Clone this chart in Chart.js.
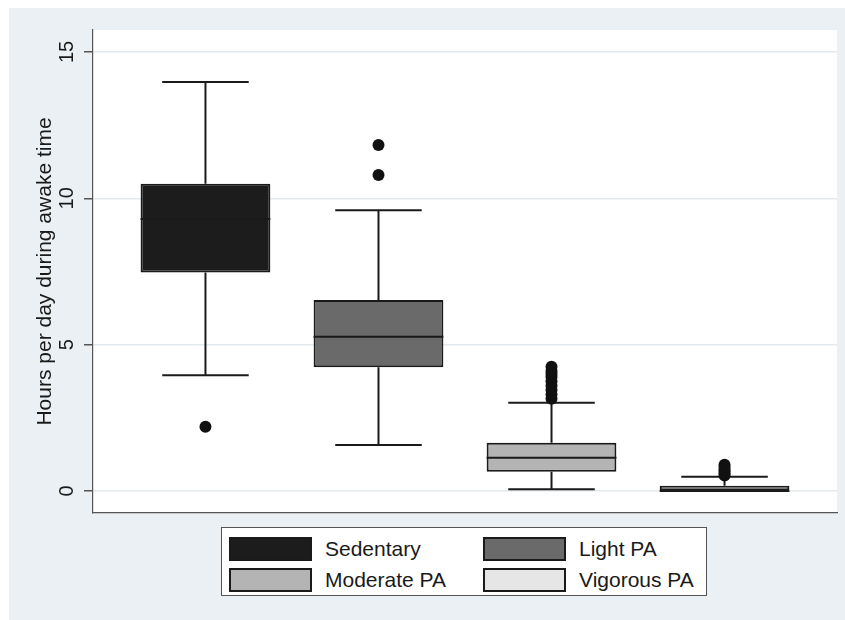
<!DOCTYPE html>
<html lang="en">
<head>
    <meta charset="UTF-8">
    <title>Hours per day during awake time</title>
    <style>
        body {
            margin: 0;
            background: #ffffff;
            font-family: Arial, "Liberation Sans", sans-serif;
        }
        .wrap {
            position: relative;
            width: 845px;
            height: 620px;
        }
        canvas {
            position: absolute;
            left: 0;
            top: 0;
        }
        .legend {
            position: absolute;
            left: 221px;
            top: 527px;
            width: 486px;
            height: 69px;
            background: #ffffff;
            border: 1px solid #555;
            display: grid;
            grid-template-columns: 254px 230px;
            grid-template-rows: 31px 31px;
            padding: 5px 0 0 7px;
            box-sizing: border-box;
        }
        .item {
            display: flex;
            align-items: center;
            font-size: 21px;
            color: #1a1a1a;
        }
        .swatch {
            width: 79px;
            height: 20px;
            border: 2px solid #1a1a1a;
            margin-right: 13px;
        }
    </style>
</head>
<body>
    <div class="wrap">
        <canvas id="chart" width="845" height="620"></canvas>
        <div class="legend" id="legend"></div>
    </div>

    <script src="https://cdn.jsdelivr.net/npm/chart.js"></script>
    <script>
        // box plot summary
        const categories = ['Sedentary', 'Light PA', 'Moderate PA', 'Vigorous PA'];
        const q1 = [7.47, 4.23, 0.66, 0];
        const medians = [9.29, 5.27, 1.14, 0];
        const q3 = [10.5, 6.53, 1.65, 0.18];
        const whiskerLow = [3.96, 1.57, 0.06, 0];
        const whiskerHigh = [13.97, 9.59, 3.02, 0.49];
        const outliers = [
            [2.2],
            [10.8, 11.82],
            [3.15, 3.3, 3.45, 3.6, 3.75, 3.9, 4.0, 4.1, 4.25],
            [0.53, 0.6, 0.67, 0.74, 0.82, 0.9]
        ];
        const yTicks = [0, 5, 10, 15];
        const yTitle = 'Hours per day during awake time';
        const fillColors = ['#1c1c1c', '#6a6a6a', '#b4b4b4', '#e6e6e6'];

        const FONT = 'Arial, "Liberation Sans", sans-serif';
        const LINE = '#1a1a1a';

        // boxes as floating bars at x = 1..4
        const positions = categories.map((c, i) => i + 1);
        const boxData = categories.map((c, i) => ({ x: positions[i], y: [q1[i], q3[i]] }));
        const outlierData = [];
        outliers.forEach((list, i) => list.forEach(v => outlierData.push({ x: positions[i], y: v })));

        // background: grey graph region, white plot region
        const backdrop = {
            id: 'backdrop',
            beforeDraw(chart) {
                const { ctx, chartArea: a } = chart;
                ctx.save();
                ctx.fillStyle = '#ffffff';
                ctx.fillRect(0, 0, chart.width, chart.height);
                ctx.fillStyle = '#eaf0f3';
                ctx.fillRect(9, 8, chart.width - 9, chart.height - 8);
                ctx.fillStyle = '#ffffff';
                ctx.fillRect(a.left, a.top, a.right - a.left, a.bottom - a.top);
                ctx.restore();
            }
        };

        // whisker stems and caps go under the boxes and dots, medians on top
        const whiskers = {
            id: 'whiskers',
            beforeDatasetsDraw(chart) {
                const { ctx, scales: { x, y } } = chart;
                const capHalf = (x.getPixelForValue(1.25) - x.getPixelForValue(1));
                ctx.save();
                ctx.strokeStyle = LINE;
                ctx.lineWidth = 2;
                categories.forEach((c, i) => {
                    const px = x.getPixelForValue(positions[i]);
                    ctx.beginPath();
                    ctx.moveTo(px, y.getPixelForValue(q3[i]));
                    ctx.lineTo(px, y.getPixelForValue(whiskerHigh[i]));
                    ctx.moveTo(px, y.getPixelForValue(q1[i]));
                    ctx.lineTo(px, y.getPixelForValue(whiskerLow[i]));
                    ctx.moveTo(px - capHalf, y.getPixelForValue(whiskerHigh[i]));
                    ctx.lineTo(px + capHalf, y.getPixelForValue(whiskerHigh[i]));
                    ctx.moveTo(px - capHalf, y.getPixelForValue(whiskerLow[i]));
                    ctx.lineTo(px + capHalf, y.getPixelForValue(whiskerLow[i]));
                    ctx.stroke();
                });
                ctx.restore();
            },
            afterDatasetsDraw(chart) {
                const { ctx, scales: { y } } = chart;
                const bars = chart.getDatasetMeta(0).data;
                ctx.save();
                ctx.strokeStyle = LINE;
                ctx.lineWidth = 2;
                bars.forEach((bar, i) => {
                    const py = y.getPixelForValue(medians[i]);
                    ctx.beginPath();
                    ctx.moveTo(bar.x - bar.width / 2, py);
                    ctx.lineTo(bar.x + bar.width / 2, py);
                    ctx.stroke();
                });
                ctx.restore();
            }
        };

        // vertical (rotated) tick labels like the original
        const yLabels = {
            id: 'yLabels',
            afterDraw(chart) {
                const { ctx, scales: { y } } = chart;
                ctx.save();
                ctx.fillStyle = '#1a1a1a';
                ctx.font = '20px ' + FONT;
                ctx.textAlign = 'center';
                ctx.textBaseline = 'middle';
                y.ticks.forEach(t => {
                    ctx.save();
                    ctx.translate(67, y.getPixelForValue(t.value));
                    ctx.rotate(-Math.PI / 2);
                    ctx.fillText(String(t.value), 0, 0);
                    ctx.restore();
                });
                ctx.restore();
            }
        };

        new Chart(document.getElementById('chart'), {
            type: 'bar',
            data: {
                datasets: [{
                    label: 'Boxes',
                    data: boxData,
                    backgroundColor: fillColors,
                    borderColor: LINE,
                    borderWidth: 2,
                    borderSkipped: false,
                    categoryPercentage: 1,
                    barPercentage: 0.75,
                    order: 2
                }, {
                    type: 'scatter',
                    label: 'Outliers',
                    data: outlierData,
                    pointRadius: 6,
                    pointBackgroundColor: '#111111',
                    pointBorderWidth: 0,
                    order: 1
                }]
            },
            options: {
                responsive: false,
                animation: false,
                layout: { padding: { top: 30, right: 8, left: 0, bottom: 0 } },
                plugins: {
                    legend: { display: false },
                    tooltip: { enabled: false }
                },
                scales: {
                    x: {
                        type: 'linear',
                        min: 0.35,
                        max: 4.65,
                        offset: false,
                        // one (hidden) tick per box so the bar width follows the box spacing
                        afterBuildTicks: s => { s.ticks = positions.map(v => ({ value: v })); },
                        ticks: { display: false },
                        grid: { display: false },
                        border: { color: '#555', width: 1.2 },
                        afterFit: s => { s.height = 107; }
                    },
                    y: {
                        min: -0.75,
                        max: 15.75,
                        afterBuildTicks: s => { s.ticks = yTicks.map(v => ({ value: v })); },
                        ticks: { display: false },
                        grid: { color: '#e3eaee', lineWidth: 1.5, tickColor: '#555', tickLength: 9 },
                        border: { color: '#555', width: 1.2 },
                        title: {
                            display: true,
                            text: yTitle,
                            color: '#1a1a1a',
                            font: { size: 21, family: FONT },
                            padding: { top: 33, bottom: 0 }
                        },
                        afterFit: s => { s.width = 93; }
                    }
                }
            },
            plugins: [backdrop, whiskers, yLabels]
        });

        // legend in two columns, built from the same arrays
        const legend = document.getElementById('legend');
        categories.forEach((c, i) => {
            const item = document.createElement('div');
            item.className = 'item';
            const sw = document.createElement('span');
            sw.className = 'swatch';
            sw.style.background = fillColors[i];
            const label = document.createElement('span');
            label.textContent = c;
            item.appendChild(sw);
            item.appendChild(label);
            legend.appendChild(item);
        });
    </script>
</body>
</html>
